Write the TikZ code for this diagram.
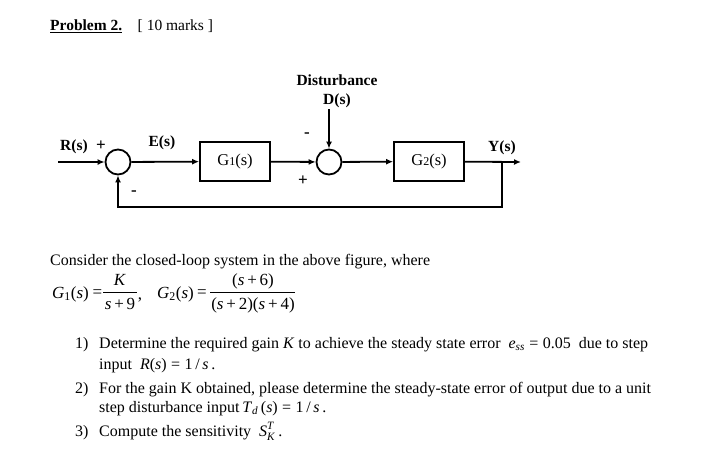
\documentclass[tikz,border=0pt]{standalone}
\usepackage{amsmath}
\usepackage{fontspec}
\setmainfont{Liberation Serif}
\usetikzlibrary{arrows.meta}
\newcommand\vi[1]{\textit{#1}}
\newcommand\eqs{\;=\;}
\newcommand\pls{\,+\,}
\newcommand\Sub[2]{\ensuremath{\text{#1}_{\text{#2}}}}
\newcommand\SubSup[3]{\ensuremath{\text{#1}_{\text{#2}}^{\text{#3}}}}
\tikzset{
  sig/.style={line width=1.8pt},
  arr/.style={sig,-{Latex[length=7pt,width=6pt]}},
  sumc/.style={circle,draw,line width=1.8pt,minimum size=25pt,inner sep=0pt},
  blk/.style={rectangle,draw,line width=1.8pt,minimum width=70pt,minimum height=39pt,inner sep=0pt,font=\fontsize{16.5}{18}\selectfont},
  lbl/.style={font=\fontsize{15.5}{17}\selectfont\bfseries,inner sep=0pt,anchor=base},
  sgn/.style={font=\fontsize{17}{18}\selectfont\bfseries,inner sep=0pt},
  qtext/.style={font=\fontsize{16}{18}\selectfont,inner sep=0pt,anchor=base west},
  htext/.style={font=\fontsize{15.5}{18}\selectfont,inner sep=0pt,anchor=base west},
  eqt/.style={font=\fontsize{17}{19}\selectfont,inner sep=0pt,anchor=base},
  fbar/.style={line width=0.8pt},
}
\begin{document}
\begin{tikzpicture}[x=1pt,y=-1pt]
\useasboundingbox (0,0) rectangle (711,461);
% heading
\node[htext] (head) at (50,30) {\textbf{\underline{Problem 2.}}\quad[ 10 marks ]};
% diagram
\node[sumc] (s1) at (118,162) {};
\node[blk] (g1) at (235,161.5) {G{\fontsize{12}{12}\selectfont 1}(s)};
\node[sumc] (s2) at (329,162) {};
\node[blk] (g2) at (429,161.5) {G{\fontsize{12}{12}\selectfont 2}(s)};
\coordinate (in) at (58,162);
\coordinate (br) at (502,162);
\coordinate (out) at (521,162);
\coordinate (fbl) at (118,207);
\coordinate (dtop) at (329,109);
\draw[arr] (in) -- (s1);
\draw[arr] (s1) -- (g1);
\draw[arr] (g1) -- (s2);
\draw[arr] (s2) -- (g2);
\draw[arr] (g2) -- (out);
\draw[arr] (br) |- (fbl) -- (s1);
\draw[arr] (dtop) -- (s2);
\node[lbl] (rs) at (74,150) {R(s)};
\node[lbl] (es) at (162,146) {E(s)};
\node[lbl] (dist) at (337,85.5) {Disturbance};
\node[lbl] (ds) at (337,104) {D(s)};
\node[lbl] (ys) at (502,151.5) {Y(s)};
\node[sgn] (p1) at (101,146) {+};
\node[sgn] (m1) at (134,193) {-};
\node[sgn] (m2) at (307,135) {-};
\node[sgn] (p2) at (303,181) {+};
% text
\node[qtext] (t0) at (50,265) {Consider the closed-loop system in the above figure, where};
% equation
\node[eqt,anchor=base west] (eqa) at (52,298) {\Sub{\vi{G}}{1}(\vi{s})};
\node[eqt] (eq1) at (97.5,297) {=};
\node[eqt] (num1) at (120,285) {\vi{K}};
\node[eqt] (den1) at (120,309) {\vi{s}\pls9};
\draw[fbar] (103,292) -- (137,292);
\node[eqt] (cm) at (140,299) {,};
\node[eqt,anchor=base west] (eqb) at (157,298) {\Sub{\vi{G}}{2}(\vi{s})};
\node[eqt] (eq2) at (202,297) {=};
\node[eqt] (num2) at (253,285) {(\vi{s}\pls6)};
\node[eqt] (den2) at (253,309) {(\vi{s}\pls2)(\vi{s}\pls4)};
\draw[fbar] (210,292) -- (295,292);
% list
\node[qtext] (n1) at (75,348) {1)};
\node[qtext] (l1) at (99,348) {Determine the required gain \vi{K} to achieve the steady state error \ \Sub{\vi{e}}{\vi{ss}}\eqs0.05 \ due to step};
\node[qtext] (l1b) at (99,369) {input \ \vi{R}(\vi{s})\eqs1\,/\,\vi{s}\,.};
\node[qtext] (n2) at (75,393) {2)};
\node[qtext] (l2) at (99,393) {For the gain K obtained, please determine the steady-state error of output due to a unit};
\node[qtext] (l2b) at (99,412) {step disturbance input\,\Sub{\vi{T}}{\vi{d}}\,(\vi{s})\eqs1\,/\,\vi{s}\,.};
\node[qtext] (n3) at (75,436) {3)};
\node[qtext] (l3) at (99,436) {Compute the sensitivity \ \SubSup{\vi{S}}{\vi{K}}{\vi{T}}\,.};
\end{tikzpicture}
\end{document}
